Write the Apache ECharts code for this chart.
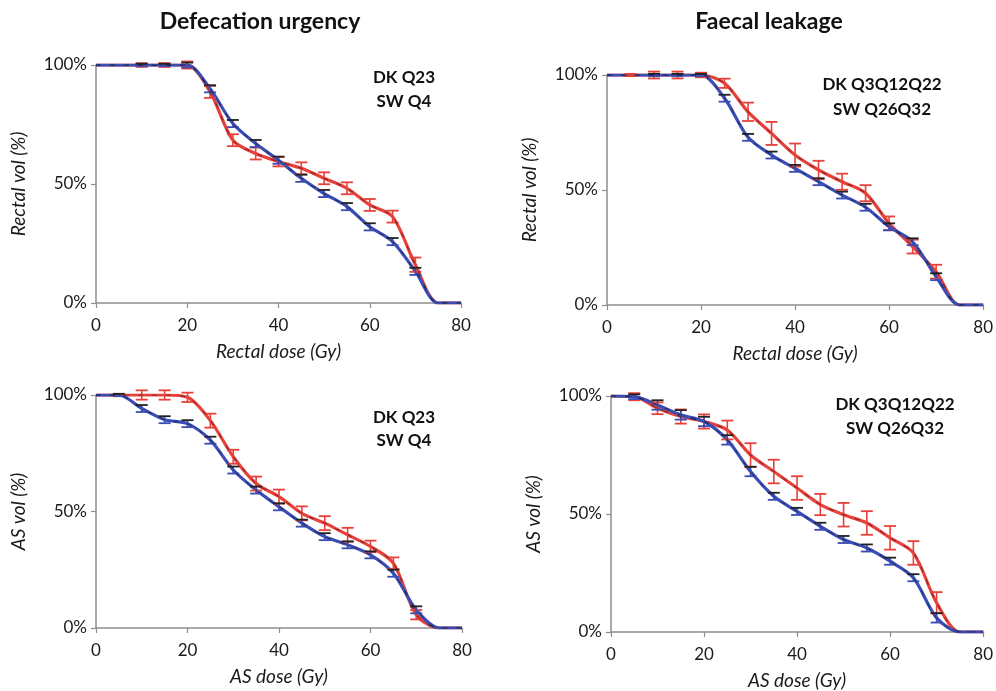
<!DOCTYPE html>
<html>
<head>
<meta charset="utf-8">
<title>Dose-volume curves</title>
<script src="https://cdn.jsdelivr.net/npm/echarts@6/dist/echarts.min.js"></script>
<style>
  html, body { margin: 0; padding: 0; background: #fff; }
  #chart { width: 996px; height: 691px; }
</style>
</head>
<body>
<div id="chart"></div>
<script>
// dose points (Gy)
const doses = [0, 5, 10, 15, 20, 25, 30, 35, 40, 45, 50, 55, 60, 65, 70, 75, 80];
const xTicks = [0, 20, 40, 60, 80];
const yTicks = [0, 50, 100];

// Defecation urgency, rectal
const urgRectalRed     = [100, 100, 100, 100, 100, 88.7, 68.4, 62.8, 59.4, 56.6, 52.4, 48.2, 41.2, 36.3, 16.1, 0, 0];
const urgRectalRedErr  = [0, 0, 0.8, 0.8, 1.5, 2.5, 2.5, 2.5, 2, 2.5, 2.5, 2.5, 2.5, 2.5, 3, 0, 0];
const urgRectalBlue    = [100, 100, 100, 100, 100, 90, 75.4, 67, 60, 52.4, 46, 40.5, 32, 25.8, 13.3, 0, 0];
const urgRectalBlueErr = [0, 0, 0.5, 0.5, 1, 1.5, 1.5, 1.5, 1.5, 1.5, 1.5, 1.5, 1.5, 1.5, 1.5, 0, 0];

// Faecal leakage, rectal
const leakRectalRed     = [100, 100, 100, 100, 100, 96.4, 84, 74.6, 65.2, 58.7, 53.6, 48.6, 35.5, 25.4, 14.5, 0, 0];
const leakRectalRedErr  = [0, 0.5, 1.5, 1.5, 1, 2, 4, 5, 5, 4, 3.5, 3.5, 3, 3, 3, 0, 0];
const leakRectalBlue    = [100, 100, 100, 100, 100, 89.9, 72.9, 65.2, 59.4, 53.6, 47.8, 42.5, 34, 27.5, 12.3, 0, 0];
const leakRectalBlueErr = [0, 0, 0.5, 0.5, 0.5, 1.5, 1.5, 1.5, 1.5, 1.5, 1.5, 1.5, 1.5, 1.5, 1.5, 0, 0];

// Defecation urgency, anal sphincter
const urgAsRed     = [100, 100, 100, 100, 99, 89, 73.5, 62, 56.4, 49.2, 45, 40, 35, 27.8, 5.7, 0, 0];
const urgAsRedErr  = [0, 0.5, 2, 2, 2, 3, 3, 3, 3, 3, 3, 3, 2.5, 2.5, 2, 0, 0];
const urgAsBlue    = [100, 100, 94.2, 89.4, 87.7, 80.6, 67.8, 59.2, 52, 45, 39.2, 35.7, 31.4, 23.5, 7.8, 0, 0];
const urgAsBlueErr = [0, 0.5, 1.5, 1.5, 1.5, 1.5, 1.5, 1.5, 1.5, 1.5, 1.5, 1.5, 1.5, 1.5, 1.5, 0, 0];

// Faecal leakage, anal sphincter
const leakAsRed     = [100, 99.7, 94.8, 91.3, 89.2, 85.6, 75, 68, 61, 54, 49.7, 46.2, 39.9, 33.5, 12.4, 0, 0];
const leakAsRedErr  = [0, 1.5, 2.5, 3, 3, 4, 5, 5, 5, 4.5, 5, 5, 5, 5, 4.5, 0, 0];
const leakAsBlue    = [100, 99.7, 96.2, 92, 89.2, 81.4, 68, 57.5, 51.1, 44.8, 39.2, 35.6, 30, 23, 6, 0, 0];
const leakAsBlueErr = [0, 1, 2, 2, 2, 2, 2, 1.5, 1.5, 1.5, 1.5, 1.5, 1.5, 1.5, 2, 0, 0];

const RED = '#e8403a';
const BLUE = '#3a4db5';
const FONT = 'Lato';

const panels = [
  { grid: { left: 96, right: 535, top: 65, bottom: 388 }, xName: 'Rectal dose (Gy)', yName: 'Rectal vol (%)',
    red: urgRectalRed, redErr: urgRectalRedErr, blue: urgRectalBlue, blueErr: urgRectalBlueErr },
  { grid: { left: 607, right: 11, top: 75, bottom: 386 }, xName: 'Rectal dose (Gy)', yName: 'Rectal vol (%)',
    red: leakRectalRed, redErr: leakRectalRedErr, blue: leakRectalBlue, blueErr: leakRectalBlueErr },
  { grid: { left: 96, right: 534, top: 395, bottom: 63 }, xName: 'AS dose (Gy)', yName: 'AS vol (%)',
    red: urgAsRed, redErr: urgAsRedErr, blue: urgAsBlue, blueErr: urgAsBlueErr },
  { grid: { left: 611, right: 11, top: 396, bottom: 58 }, xName: 'AS dose (Gy)', yName: 'AS vol (%)',
    red: leakAsRed, redErr: leakAsRedErr, blue: leakAsBlue, blueErr: leakAsBlueErr }
];

function errData(vals, errs) {
  const out = [];
  doses.forEach((d, i) => {
    if (errs[i] > 0) out.push([d, vals[i] - errs[i], vals[i] + errs[i]]);
  });
  return out;
}

function errRender(color, topColor) {
  return function (params, api) {
    const x = api.value(0);
    const lo = api.coord([x, api.value(1)]);
    const hi = api.coord([x, api.value(2)]);
    const w = 6;
    return {
      type: 'group',
      children: [
        { type: 'line', shape: { x1: lo[0], y1: lo[1], x2: hi[0], y2: hi[1] }, style: { stroke: color, lineWidth: 1.6 } },
        { type: 'line', shape: { x1: lo[0] - w, y1: lo[1], x2: lo[0] + w, y2: lo[1] }, style: { stroke: color, lineWidth: 1.8 } },
        { type: 'line', shape: { x1: hi[0] - w, y1: hi[1], x2: hi[0] + w, y2: hi[1] }, style: { stroke: topColor, lineWidth: 1.8 } }
      ]
    };
  };
}

const axisLine = { lineStyle: { color: '#8e8e8e', width: 1.5 } };
const axisTick = { length: 5, lineStyle: { color: '#8e8e8e', width: 1.2 } };

const option = {
  animation: false,
  backgroundColor: '#fff',
  title: [
    { text: 'Defecation urgency', left: 255, top: 5, textAlign: 'center',
      textStyle: { fontFamily: FONT, fontWeight: 'bold', fontSize: 23, color: '#111' } },
    { text: 'Faecal leakage', left: 764, top: 5, textAlign: 'center',
      textStyle: { fontFamily: FONT, fontWeight: 'bold', fontSize: 23, color: '#111' } }
  ],
  grid: panels.map(p => p.grid),
  xAxis: panels.map((p, i) => ({
    type: 'value', gridIndex: i, min: 0, max: 80, interval: 20,
    name: p.xName, nameLocation: 'middle', nameGap: 39,
    nameTextStyle: { fontFamily: FONT, fontStyle: 'italic', fontSize: 19, color: '#1a1a1a' },
    axisLine: axisLine, axisTick: axisTick, splitLine: { show: false },
    axisLabel: { fontFamily: FONT, fontSize: 17, color: '#1a1a1a', margin: 14,
      formatter: v => xTicks.includes(v) ? String(v) : '' }
  })),
  yAxis: panels.map((p, i) => ({
    type: 'value', gridIndex: i, min: 0, max: 100, interval: 50,
    name: p.yName, nameLocation: 'middle', nameGap: 68,
    nameTextStyle: { fontFamily: FONT, fontStyle: 'italic', fontSize: 19, color: '#1a1a1a' },
    axisLine: Object.assign({ show: true }, axisLine), axisTick: Object.assign({ show: true }, axisTick),
    splitLine: { show: false },
    axisLabel: { fontFamily: FONT, fontSize: 17, color: '#1a1a1a', margin: 9,
      formatter: v => yTicks.includes(v) ? v + '%' : '' }
  })),
  graphic: [
    ['DK Q23', 404, 78], ['SW Q4', 404, 102],
    ['DK Q3Q12Q22', 882, 85], ['SW Q26Q32', 882, 110],
    ['DK Q23', 404, 418], ['SW Q4', 404, 441],
    ['DK Q3Q12Q22', 895, 405], ['SW Q26Q32', 895, 429]
  ].map(t => ({
    type: 'text', x: t[1], y: t[2],
    style: { text: t[0], fontFamily: FONT, fontWeight: 'bold', fontSize: 17, fill: '#111',
      align: 'center', verticalAlign: 'middle' }
  })),
  series: []
};

panels.forEach((p, i) => {
  [['red', RED, RED], ['blue', BLUE, '#222']].forEach(([key, color, top]) => {
    option.series.push({
      type: 'line', xAxisIndex: i, yAxisIndex: i, smooth: 0.3,
      data: doses.map((d, k) => [d, p[key][k]]),
      showSymbol: false, z: key === 'blue' ? 4 : 3,
      lineStyle: { color: color, width: 3.2 }
    });
    option.series.push({
      type: 'custom', xAxisIndex: i, yAxisIndex: i, z: 5,
      renderItem: errRender(color, top),
      data: errData(p[key], p[key + 'Err'])
    });
    option.series.push({
      type: 'line', xAxisIndex: i, yAxisIndex: i, smooth: 0.3,
      data: doses.map((d, k) => [d, p[key][k]]),
      showSymbol: false, z: 6, silent: true,
      lineStyle: { color: '#111', width: 0.8, type: [5, 9], opacity: 0.7 }
    });
  });
});

const chart = echarts.init(document.getElementById('chart'));
chart.setOption(option);
</script>
</body>
</html>
